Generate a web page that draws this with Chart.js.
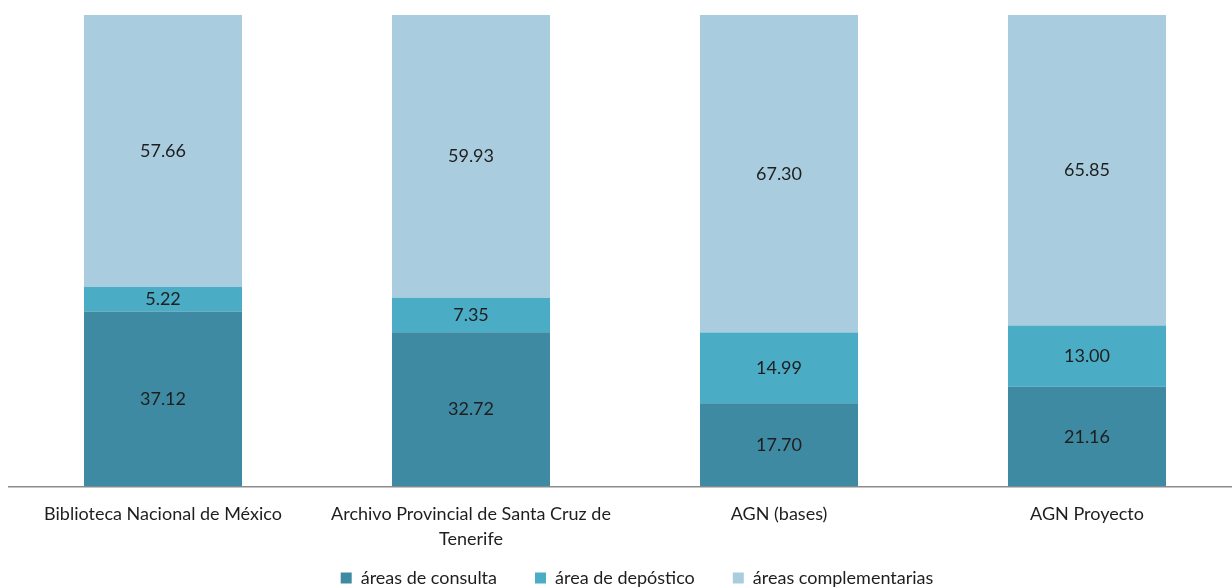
<!DOCTYPE html>
<html>
<head>
<meta charset="utf-8">
<script src="https://cdn.jsdelivr.net/npm/chart.js@4.4.0/dist/chart.umd.min.js"></script>
<style>
  html, body { margin: 0; padding: 0; background: #fff; overflow: hidden; }
  /* el área de trazado continúa un poco más allá del borde derecho */
  #wrap { width: 1241px; height: 588px; }
</style>
</head>
<body>
<div id="wrap"><canvas id="chart"></canvas></div>
<script>
// categorias y valores (%)
const categories = [
    'Biblioteca Nacional de México',
    ['Archivo Provincial de Santa Cruz de', 'Tenerife'],
    'AGN (bases)',
    'AGN Proyecto'
];
const seriesNames = ['áreas de consulta', 'área de depóstico', 'áreas complementarias'];
const consulta = [37.12, 32.72, 17.70, 21.16];
const deposito = [5.22, 7.35, 14.99, 13.00];
const complementarias = [57.66, 59.93, 67.30, 65.85];

const colors = ['#3e8aa2', '#4bacc6', '#a9cddf'];
const FONT = 'Lato, "Open Sans", sans-serif';

// etiquetas de valor en el centro de cada segmento
const valueLabels = {
    id: 'valueLabels',
    afterDatasetsDraw(chart) {
        const ctx = chart.ctx;
        ctx.save();
        ctx.font = '18px ' + FONT;
        ctx.fillStyle = '#1e1e1e';
        ctx.textAlign = 'center';
        ctx.textBaseline = 'middle';
        chart.data.datasets.forEach((ds, i) => {
            chart.getDatasetMeta(i).data.forEach((bar, j) => {
                const mid = (bar.y + bar.base) / 2;
                ctx.fillText(ds.data[j].toFixed(2), bar.x, mid);
            });
        });
        ctx.restore();
    }
};

// sube la leyenda para acercarla a las etiquetas del eje
const liftLegend = {
    id: 'liftLegend',
    afterLayout(chart) {
        const lg = chart.legend;
        if (lg) {
            lg.top -= 36;
            lg.bottom -= 36;
            lg.left += 12;
            lg.right += 12;
        }
    }
};

const datasets = [consulta, deposito, complementarias].map((d, i) => ({
    label: seriesNames[i],
    data: d,
    backgroundColor: colors[i],
    borderWidth: 0,
    categoryPercentage: 1,
    barPercentage: 0.513
}));

new Chart(document.getElementById('chart'), {
    type: 'bar',
    data: { labels: categories, datasets: datasets },
    options: {
        responsive: true,
        maintainAspectRatio: false,
        animation: false,
        layout: { padding: { left: 9, right: 0, top: 15, bottom: -45 } },
        plugins: {
            tooltip: { enabled: false },
            legend: {
                position: 'bottom',
                labels: {
                    boxWidth: 11,
                    boxHeight: 11,
                    padding: 38,
                    color: '#1e1e1e',
                    font: { family: FONT, size: 18 }
                }
            }
        },
        scales: {
            x: {
                stacked: true,
                grid: { display: false, drawTicks: false },
                border: { display: true, color: '#8c8c8c', width: 1.5 },
                ticks: {
                    padding: 15,
                    maxRotation: 0,
                    autoSkip: false,
                    color: '#1e1e1e',
                    font: { family: FONT, size: 18, lineHeight: 1.4 }
                }
            },
            y: {
                stacked: true,
                display: false,
                min: 0,
                max: 100
            }
        }
    },
    plugins: [valueLabels, liftLegend]
});
</script>
</body>
</html>
